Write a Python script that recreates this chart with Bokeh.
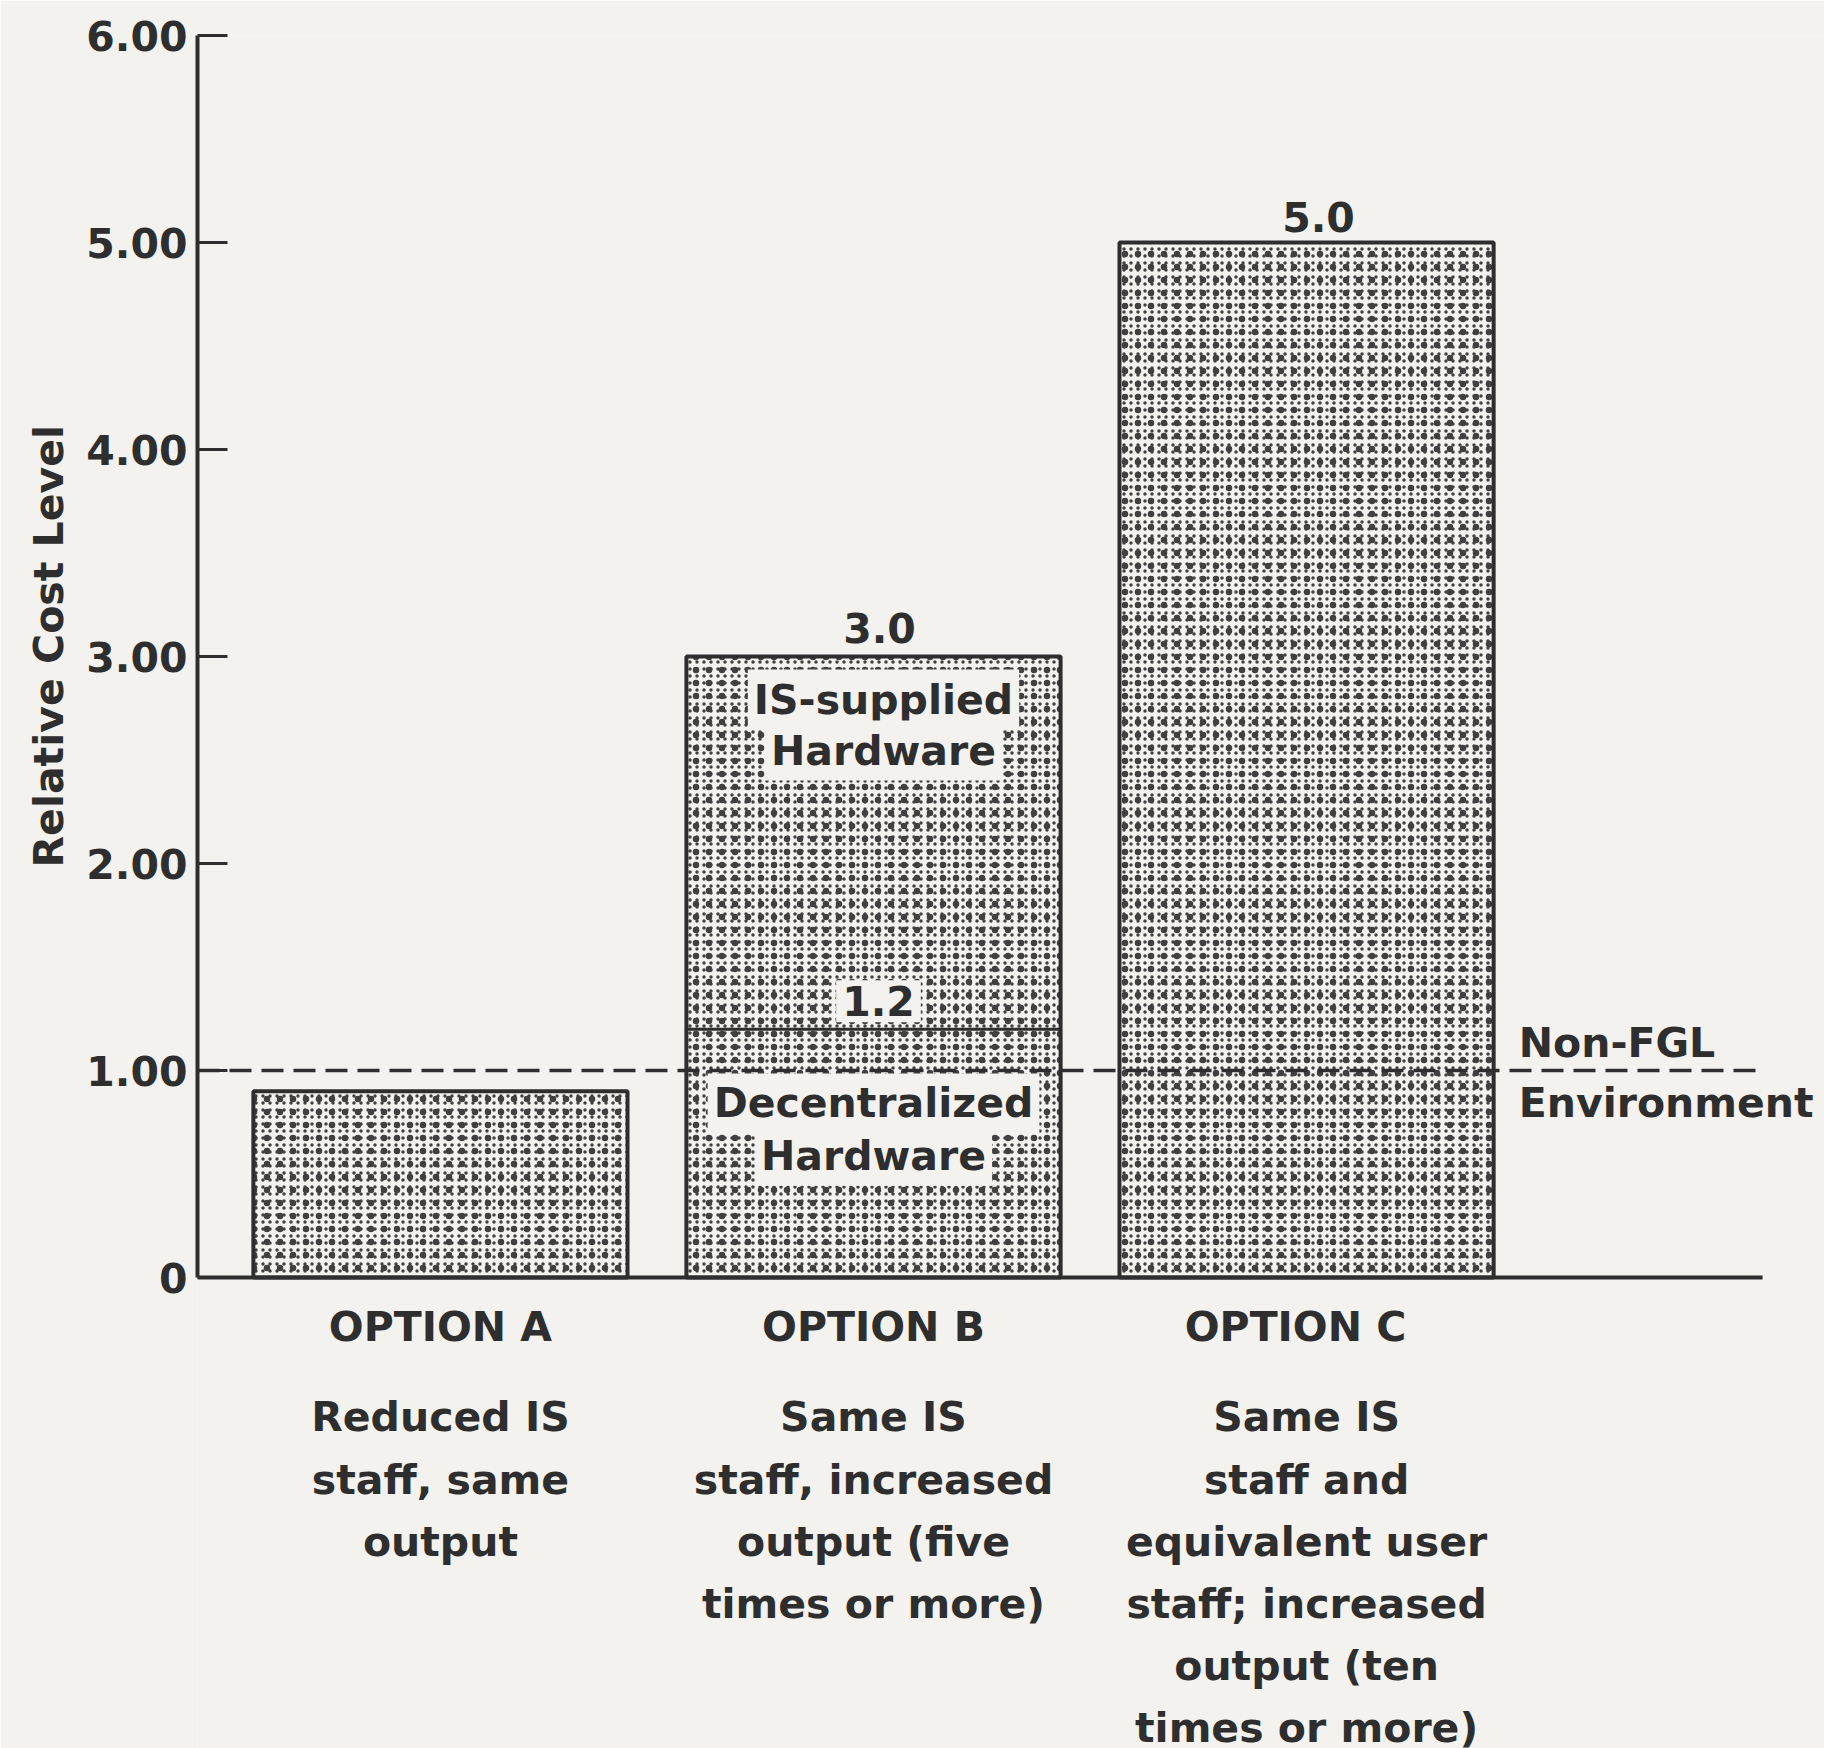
from bokeh.plotting import figure
from bokeh.models import Range1d, FixedTicker, ColumnDataSource, Title
from bokeh.core.properties import value
from bokeh.embed import file_html
from bokeh.resources import INLINE

# ---- data -------------------------------------------------------------
options = ["OPTION A", "OPTION B", "OPTION C"]
total_cost = [0.90, 3.0, 5.0]          # relative cost level of each option
value_labels = ["", "3.0", "5.0"]
decentralized_cost = 1.2               # lower segment of option B
decentralized_label = "1.2"
segment_names_b = {"upper": ["IS-supplied", "Hardware"],
                   "lower": ["Decentralized", "Hardware"]}
descriptions = [
    ["Reduced IS", "staff, same", "output"],
    ["Same IS", "staff, increased", "output (five", "times or more)"],
    ["Same IS", "staff and", "equivalent user", "staff; increased",
     "output (ten", "times or more)"],
]
y_ticks = [0, 1, 2, 3, 4, 5, 6]
y_tick_labels = ["0", "1.00", "2.00", "3.00", "4.00", "5.00", "6.00"]
reference_level = 1.0
reference_names = ["Non-FGL", "Environment"]

# ---- styling ----------------------------------------------------------
PAGE = "#f3f2ee"
INK = "#2e2e2e"
DOTS = "#404040"
FONT = value("DejaVu Sans")
FS = "41px"
BAR_W = 0.864
X0, X1 = -0.561, 3.196          # horizontal extent of the drawing area
Y0, Y1 = -2.275, 6.0
AXIS_END = 3.053                 # right end of baseline / reference line
NOTE_X = 2.49

x = list(range(len(options)))

p = figure(width=1824, height=1748, output_backend="svg", toolbar_location=None,
           x_range=Range1d(X0, X1), y_range=Range1d(Y0, Y1),
           x_axis_type=None,
           min_border_left=197, min_border_right=0,
           min_border_top=35, min_border_bottom=0)
p.background_fill_color = PAGE
p.border_fill_color = PAGE
p.outline_line_color = None
p.grid.visible = False

ax = p.yaxis[0]
ax.ticker = FixedTicker(ticks=y_ticks)
ax.major_label_overrides = {t: s for t, s in zip(y_ticks, y_tick_labels)}
ax.bounds = (0, 6)
ax.axis_line_width = 4
ax.axis_line_color = INK
ax.major_tick_in = 30
ax.major_tick_out = 0
ax.major_tick_line_width = 3
ax.major_tick_line_color = INK
ax.minor_tick_line_color = None
ax.major_label_text_font = "DejaVu Sans"
ax.major_label_text_font_style = "bold"
ax.major_label_text_font_size = FS
ax.major_label_text_color = INK
ax.major_label_standoff = 10

# axis title, centred on the 0-6 scale rather than on the whole frame
p.add_layout(Title(text="Relative Cost Level", align="left", offset=881,
                   standoff=18, vertical_align="top",
                   text_font="DejaVu Sans", text_font_style="bold",
                   text_font_size=FS, text_color=INK), "left")

src = ColumnDataSource(dict(x=x, top=total_cost))

# stippled fill: two overlaid dot screens of different pitch
p.vbar(x="x", top="top", bottom=0, width=BAR_W, source=src,
       fill_color=PAGE, line_color=None,
       hatch_pattern="dot", hatch_scale=7, hatch_weight=1, hatch_color=DOTS)
p.vbar(x="x", top="top", bottom=0, width=BAR_W, source=src,
       fill_alpha=0, line_color=None,
       hatch_pattern="dot", hatch_scale=13, hatch_weight=1, hatch_color=DOTS)
# outlines
p.vbar(x="x", top="top", bottom=0, width=BAR_W, source=src,
       fill_color=None, line_color=INK, line_width=4)
p.vbar(x=[x[1]], top=[decentralized_cost], bottom=0, width=BAR_W,
       fill_color=None, line_color=INK, line_width=3)

# reference level and baseline
p.segment(x0=[X0], y0=[reference_level], x1=[AXIS_END], y1=[reference_level],
          line_color=INK, line_width=3.5, line_dash="22 10")
p.segment(x0=[X0], y0=[0], x1=[AXIS_END], y1=[0], line_color=INK, line_width=4)

txt = dict(text_font=FONT, text_font_style="bold", text_font_size=FS,
           text_color=INK, text_baseline="middle")

# values above the bars
p.text(x=x[1:], y=total_cost[1:], text=value_labels[1:], text_align="center",
       x_offset=[6, 12], y_offset=[-29, -26], **txt)
# in-bar labels with a cleared background
knock = dict(background_fill_color=PAGE, padding=6)
p.text(x=[x[1]], y=[decentralized_cost], text=[decentralized_label],
       text_align="center", x_offset=5, y_offset=-28, **knock, **txt)
p.text(x=[x[1]] * 2, y=[2.792, 2.546], text=segment_names_b["upper"],
       text_align="center", x_offset=10, **knock, **txt)
p.text(x=[x[1]] * 2, y=[0.841, 0.589], text=segment_names_b["lower"],
       text_align="center", **knock, **txt)

# reference level note
p.text(x=[NOTE_X, NOTE_X], y=[reference_level] * 2, text=reference_names,
       text_align="left", y_offset=[-28, 32], **txt)

# option names and descriptions beneath the baseline
OPT_Y = -0.237
DESC_Y = -0.676
STEP = 0.300
p.text(x=x, y=[OPT_Y] * len(x), text=options, text_align="center",
       x_offset=[0, 0, -11], **txt)
dx, dy, dt = [], [], []
for i, lines in enumerate(descriptions):
    for j, line in enumerate(lines):
        dx.append(x[i])
        dy.append(DESC_Y - j * STEP)
        dt.append(line)
p.text(x=dx, y=dy, text=dt, text_align="center", **txt)

open("out.html", "w").write(file_html(p, INLINE))
